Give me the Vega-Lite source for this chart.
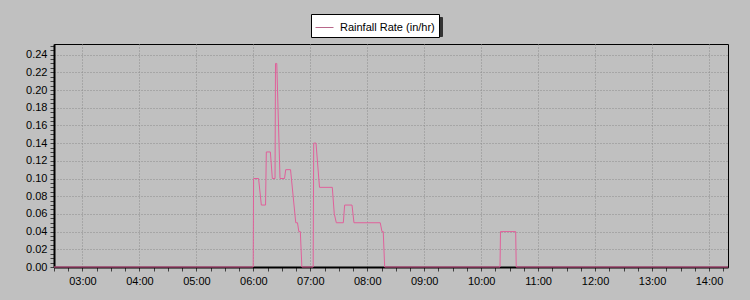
{
  "$schema": "https://vega.github.io/schema/vega-lite/v6.json",
  "autosize": "none",
  "width": 674,
  "height": 223,
  "padding": {"left": 54, "top": 44, "right": 22, "bottom": 33},
  "background": "#C0C0C0",
  "config": {
    "view": {"stroke": "#000000", "strokeWidth": 1},
    "font": "Liberation Sans"
  },
  "data": {
    "values": [
      {"t": "2024-01-01T02:30:00Z", "v": 0},
      {"t": "2024-01-01T05:59:50Z", "v": 0},
      {"t": "2024-01-01T06:00:15Z", "v": 0.10},
      {"t": "2024-01-01T06:05:30Z", "v": 0.10},
      {"t": "2024-01-01T06:08:25Z", "v": 0.07},
      {"t": "2024-01-01T06:12:50Z", "v": 0.07},
      {"t": "2024-01-01T06:13:40Z", "v": 0.13},
      {"t": "2024-01-01T06:17:55Z", "v": 0.13},
      {"t": "2024-01-01T06:20:00Z", "v": 0.10},
      {"t": "2024-01-01T06:22:50Z", "v": 0.10},
      {"t": "2024-01-01T06:23:20Z", "v": 0.23},
      {"t": "2024-01-01T06:24:40Z", "v": 0.23},
      {"t": "2024-01-01T06:28:05Z", "v": 0.10},
      {"t": "2024-01-01T06:32:50Z", "v": 0.10},
      {"t": "2024-01-01T06:34:05Z", "v": 0.11},
      {"t": "2024-01-01T06:39:10Z", "v": 0.11},
      {"t": "2024-01-01T06:42:50Z", "v": 0.07},
      {"t": "2024-01-01T06:44:40Z", "v": 0.05},
      {"t": "2024-01-01T06:46:30Z", "v": 0.05},
      {"t": "2024-01-01T06:47:55Z", "v": 0.04},
      {"t": "2024-01-01T06:49:30Z", "v": 0.04},
      {"t": "2024-01-01T06:51:05Z", "v": 0},
      {"t": "2024-01-01T07:03:00Z", "v": 0},
      {"t": "2024-01-01T07:03:35Z", "v": 0.14},
      {"t": "2024-01-01T07:06:00Z", "v": 0.14},
      {"t": "2024-01-01T07:09:40Z", "v": 0.09},
      {"t": "2024-01-01T07:23:10Z", "v": 0.09},
      {"t": "2024-01-01T07:25:15Z", "v": 0.06},
      {"t": "2024-01-01T07:27:25Z", "v": 0.05},
      {"t": "2024-01-01T07:34:45Z", "v": 0.05},
      {"t": "2024-01-01T07:36:10Z", "v": 0.07},
      {"t": "2024-01-01T07:43:55Z", "v": 0.07},
      {"t": "2024-01-01T07:46:00Z", "v": 0.05},
      {"t": "2024-01-01T08:13:40Z", "v": 0.05},
      {"t": "2024-01-01T08:15:30Z", "v": 0.04},
      {"t": "2024-01-01T08:16:50Z", "v": 0.04},
      {"t": "2024-01-01T08:18:20Z", "v": 0},
      {"t": "2024-01-01T10:19:50Z", "v": 0},
      {"t": "2024-01-01T10:20:20Z", "v": 0.04},
      {"t": "2024-01-01T10:36:20Z", "v": 0.04},
      {"t": "2024-01-01T10:36:55Z", "v": 0},
      {"t": "2024-01-01T14:20:00Z", "v": 0}
    ]
  },
  "mark": {"type": "line", "strokeWidth": 1, "interpolate": "linear", "color": "#E0609A"},
  "encoding": {
    "x": {
      "field": "t",
      "type": "temporal",
      "scale": {"type": "utc", "domain": ["2024-01-01T02:30:00Z", "2024-01-01T14:20:00Z"], "nice": false},
      "axis": {
        "title": null,
        "values": [1704076200000, 1704077100000, 1704078000000, 1704078900000, 1704079800000, 1704080700000, 1704081600000, 1704082500000, 1704083400000, 1704084300000, 1704085200000, 1704086100000, 1704087000000, 1704087900000, 1704088800000, 1704089700000, 1704090600000, 1704091500000, 1704092400000, 1704093300000, 1704094200000, 1704095100000, 1704096000000, 1704096900000, 1704097800000, 1704098700000, 1704099600000, 1704100500000, 1704101400000, 1704102300000, 1704103200000, 1704104100000, 1704105000000, 1704105900000, 1704106800000, 1704107700000, 1704108600000, 1704109500000, 1704110400000, 1704111300000, 1704112200000, 1704113100000, 1704114000000, 1704114900000, 1704115800000, 1704116700000, 1704117600000, 1704118500000],
        "labelExpr": "utcminutes(datum.value) === 0 ? utcFormat(datum.value, '%H:%M') : ''",
        "labelOverlap": false,
        "labelFlush": false,
        "labelFont": "Liberation Sans",
        "labelFontSize": 11,
        "labelColor": "#000000",
        "labelPadding": 4,
        "tickSize": 4,
        "tickColor": "#404040",
        "domainColor": "#000000",
        "domainWidth": 2,
        "grid": true,
        "gridColor": "#8C8C8C",
        "gridDash": [1, 2],
        "gridOpacity": {"condition": {"test": "utcminutes(datum.value) !== 0", "value": 0}, "value": 1}
      }
    },
    "y": {
      "field": "v",
      "type": "quantitative",
      "scale": {"domain": [0, 0.252], "nice": false, "zero": true},
      "axis": {
        "title": null,
        "values": [0, 0.005, 0.01, 0.015, 0.02, 0.025, 0.03, 0.035, 0.04, 0.045, 0.05, 0.055, 0.06, 0.065, 0.07, 0.075, 0.08, 0.085, 0.09, 0.095, 0.1, 0.105, 0.11, 0.115, 0.12, 0.125, 0.13, 0.135, 0.14, 0.145, 0.15, 0.155, 0.16, 0.165, 0.17, 0.175, 0.18, 0.185, 0.19, 0.195, 0.2, 0.205, 0.21, 0.215, 0.22, 0.225, 0.23, 0.235, 0.24, 0.245, 0.25],
        "labelExpr": "round(datum.value * 1000) % 20 === 0 ? format(datum.value, '.2f') : ''",
        "labelOverlap": false,
        "labelFlush": false,
        "labelFont": "Liberation Sans",
        "labelFontSize": 11,
        "labelColor": "#000000",
        "labelPadding": 3,
        "tickSize": 4,
        "tickColor": "#404040",
        "domainColor": "#000000",
        "domainWidth": 2,
        "grid": true,
        "gridColor": "#8C8C8C",
        "gridDash": [1, 2],
        "gridOpacity": {"condition": {"test": "round(datum.value * 1000) % 20 !== 0", "value": 0}, "value": 1}
      }
    },
    "color": {
      "datum": 0,
      "type": "quantitative",
      "scale": {"domain": [0, 1], "range": ["#E0609A", "#E0609A"]},
      "legend": {
        "title": null,
        "type": "gradient",
        "direction": "horizontal",
        "orient": "none",
        "legendX": 260,
        "legendY": -27,
        "fillColor": "#333333",
        "strokeColor": "#333333",
        "padding": 4,
        "cornerRadius": 0,
        "gradientLength": 120,
        "gradientThickness": 10,
        "gradientOpacity": 0,
        "gradientStrokeWidth": 0,
        "labelExpr": "''",
        "labelFontSize": 1,
        "labelOffset": 0
      }
    },
    "opacity": {
      "datum": "Rainfall Rate (in/hr)",
      "type": "nominal",
      "scale": {"range": [1]},
      "legend": {
        "title": null,
        "orient": "none",
        "legendX": 257,
        "legendY": -30,
        "fillColor": "#FFFFFF",
        "strokeColor": "#000000",
        "padding": 4,
        "cornerRadius": 0,
        "symbolType": "stroke",
        "symbolSize": 324,
        "symbolStrokeWidth": 1,
        "symbolStrokeColor": "#B8678A",
        "labelFont": "Liberation Sans",
        "labelFontSize": 11,
        "labelColor": "#000000",
        "labelOffset": 6
      }
    }
  }
}
